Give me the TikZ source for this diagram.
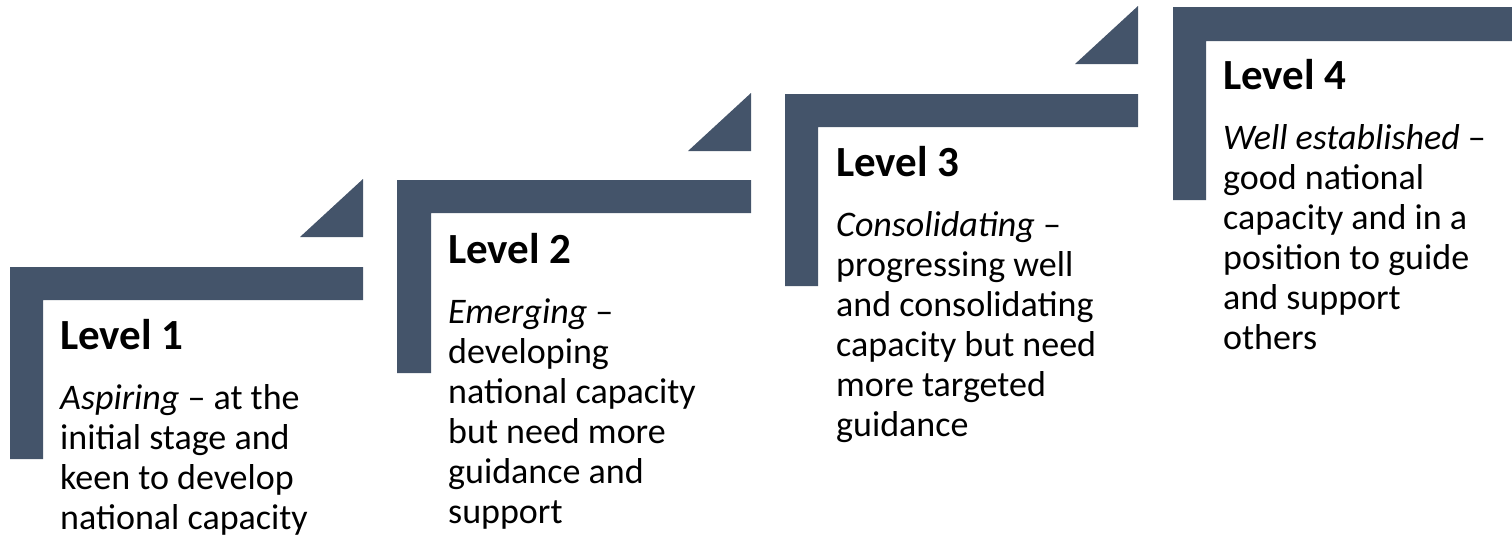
\documentclass[tikz,border=0pt]{standalone}
\usepackage{fontspec}
\setmainfont{Carlito}
\definecolor{slate}{HTML}{44546A}
\begin{document}
\begin{tikzpicture}[x=1pt,y=-1pt,
  stepfill/.style={fill=slate,draw=none},
  head/.style={anchor=base west, inner sep=0pt, font=\fontsize{43}{52}\selectfont\bfseries},
  body/.style={anchor=base west, inner sep=0pt, font=\fontsize{36}{40}\selectfont}]
\useasboundingbox (0,0) rectangle (1512,536);
% Step 1
\fill[stepfill] (10,267)--(363,267)--(363,300)--(43,300)--(43,459)--(10,459)--cycle;
\fill[stepfill] (300,237)--(363,237)--(363,179)--cycle;
\node[head] (h1) at (60,349) {Level 1};
\node[body] (b1) at (60,409) {\begin{tabular}[t]{@{}l@{}}\textit{Aspiring} – at the\\initial stage and\\keen to develop\\national capacity\end{tabular}};
% Step 2
\fill[stepfill] (397,180)--(751,180)--(751,213)--(431,213)--(431,373)--(397,373)--cycle;
\fill[stepfill] (688,151)--(751,151)--(751,93)--cycle;
\node[head] (h2) at (448,263) {Level 2};
\node[body] (b2) at (448,323) {\begin{tabular}[t]{@{}l@{}}\textit{Emerging} –\\developing\\national capacity\\but need more\\guidance and\\support\end{tabular}};
% Step 3
\fill[stepfill] (785,94)--(1138,94)--(1138,127)--(818,127)--(818,286)--(785,286)--cycle;
\fill[stepfill] (1075,64)--(1138,64)--(1138,6)--cycle;
\node[head] (h3) at (836,176) {Level 3};
\node[body] (b3) at (836,236) {\begin{tabular}[t]{@{}l@{}}\textit{Consolidating} –\\progressing well\\and consolidating\\capacity but need\\more targeted\\guidance\end{tabular}};
% Step 4
\fill[stepfill] (1173,7)--(1512,7)--(1512,41)--(1206,41)--(1206,200)--(1173,200)--cycle;
\node[head] (h4) at (1223,89) {Level 4};
\node[body] (b4) at (1223,149) {\begin{tabular}[t]{@{}l@{}}\textit{Well established} –\\good national\\capacity and in a\\position to guide\\and support\\others\end{tabular}};
\end{tikzpicture}
\end{document}
